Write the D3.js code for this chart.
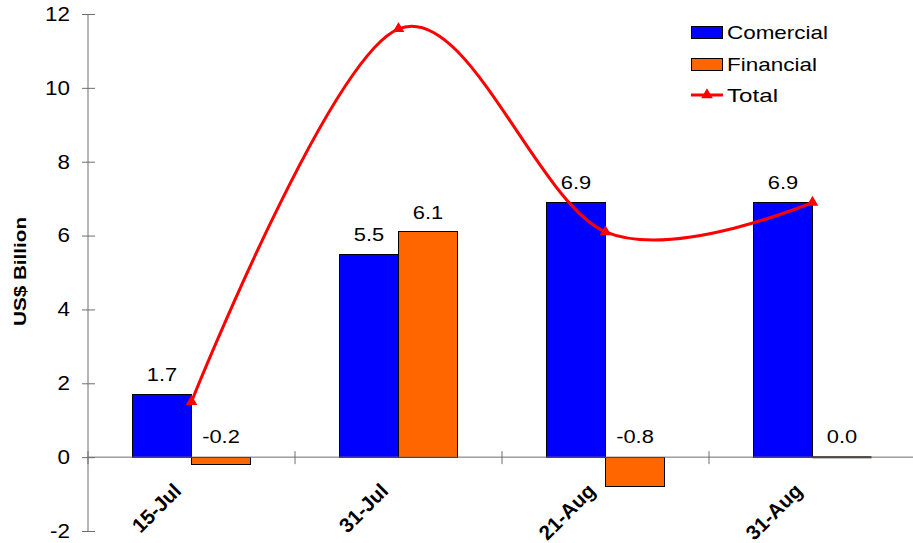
<!DOCTYPE html>
<html>
<head>
<meta charset="utf-8">
<script src="https://cdn.jsdelivr.net/npm/d3@7/dist/d3.min.js"></script>
<style>
  html, body { margin: 0; padding: 0; background: #fff; }
  svg { display: block; font-family: "Liberation Sans", Arial, sans-serif; }
</style>
</head>
<body>
<svg id="chart" width="913" height="543"></svg>
<script>
// Dates on the category axis
const categories = ["15-Jul", "31-Jul", "21-Aug", "31-Aug"];
// Flows by type, US$ billion
const comercial = [1.7, 5.5, 6.9, 6.9];
const financial = [-0.2, 6.1, -0.8, 0.0];
const total = [1.5, 11.6, 6.1, 6.9];
// Value axis ticks
const yTicks = [-2, 0, 2, 4, 6, 8, 10, 12];
const seriesNames = ["Comercial", "Financial"];
const seriesColors = ["#0000ff", "#ff6600"];
const legendNames = ["Comercial", "Financial", "Total"];

const svg = d3.select("#chart");

// Widen horizontal text a little (the chart's type is set wide)
function widen(sel, k) {
  sel.each(function() {
    const w = this.getComputedTextLength();
    d3.select(this).attr("textLength", w * k).attr("lengthAdjust", "spacingAndGlyphs");
  });
}

const y = d3.scaleLinear().domain([-2, 12]).range([531, 14]);
const x = d3.scaleBand().domain(categories).range([88, 916]).padding(0);
const barW = 59;
const xs = d3.scaleBand().domain(seriesNames)
  .range([x.bandwidth() / 2 - barW, x.bandwidth() / 2 + barW]).padding(0);

const axisColor = "#6e6e6e";

// Value axis
const yAxis = svg.append("g")
  .attr("transform", "translate(88,0)")
  .call(d3.axisLeft(y).tickValues(yTicks).tickSize(6).tickPadding(12).tickFormat(d => String(d)));
yAxis.select(".domain").attr("stroke", axisColor).attr("d", `M0,${y(12)}V${y(-2)}`);
yAxis.selectAll(".tick line").attr("stroke", axisColor).attr("x1", 7);
yAxis.selectAll(".tick text")
  .attr("fill", "#000")
  .style("font-size", "20px")
  .style("font-family", "Liberation Sans, Arial, sans-serif")
  .call(widen, 1.12);

// Axis title
svg.append("text")
  .attr("transform", `translate(26,${(217 + 326) / 2}) rotate(-90)`)
  .attr("text-anchor", "middle")
  .attr("textLength", 109)
  .attr("lengthAdjust", "spacingAndGlyphs")
  .style("font-size", "17px")
  .style("font-weight", "bold")
  .text("US$ Billion");

// Bars
const groups = svg.append("g").selectAll("g")
  .data(categories)
  .join("g")
  .attr("transform", d => `translate(${x(d)},0)`);

seriesNames.forEach((name, si) => {
  const vals = si === 0 ? comercial : financial;
  groups.append("rect")
    .attr("x", xs(name))
    .attr("width", xs.bandwidth())
    .attr("y", (d, i) => Math.min(y(vals[i]), y(0)))
    .attr("height", (d, i) => Math.abs(y(vals[i]) - y(0)))
    .attr("fill", seriesColors[si])
    .attr("stroke", "#000")
    .attr("stroke-width", 1)
    .attr("shape-rendering", "crispEdges");
  groups.append("text")
    .attr("class", "val")
    .attr("x", xs(name) + xs.bandwidth() / 2)
    .attr("y", (d, i) => vals[i] > 0 ? y(vals[i]) - 13 : y(0) - 14)
    .attr("text-anchor", "middle")
    .style("font-size", "19px")
    .text((d, i) => vals[i].toFixed(1));
});
svg.selectAll("text.val").call(widen, 1.15);

// Zero-value bars read as a dark line on the axis
groups.each(function(d, i) {
  if (financial[i] === 0) {
    d3.select(this).append("line")
      .attr("x1", xs("Financial")).attr("x2", xs("Financial") + xs.bandwidth())
      .attr("y1", y(0)).attr("y2", y(0))
      .attr("stroke", "#1a0a00").attr("stroke-width", 2);
  }
});

// Category axis
const xAxis = svg.append("g")
  .attr("transform", `translate(0,${y(0)})`);
xAxis.append("line")
  .attr("x1", 88).attr("x2", 913)
  .attr("stroke", axisColor);
xAxis.selectAll("line.bound")
  .data(categories.map(c => x(c)).concat([x.range()[1]]))
  .join("line")
  .attr("class", "bound")
  .attr("x1", d => d).attr("x2", d => d)
  .attr("y1", -6).attr("y2", 7)
  .attr("stroke", axisColor);
xAxis.selectAll("text")
  .data(categories)
  .join("text")
  .attr("transform", d => `translate(${x(d) + x.bandwidth() / 2 - 9},${35}) rotate(-45)`)
  .attr("text-anchor", "end")
  .style("font-size", "20.5px")
  .style("font-weight", "bold")
  .text(d => d);

// Total line, smoothed
const px = (d, i) => x(categories[i]) + x.bandwidth() / 2;
const line = d3.line()
  .x((d, i) => px(d, i))
  .y(d => y(d))
  .curve(d3.curveCardinal.tension(0));
svg.append("path")
  .datum(total)
  .attr("d", line)
  .attr("fill", "none")
  .attr("stroke", "#ff0000")
  .attr("stroke-width", 3);

const tri = d3.symbol().type(d3.symbolTriangle).size(58);
svg.append("g").selectAll("path")
  .data(total)
  .join("path")
  .attr("transform", (d, i) => `translate(${px(d, i)},${y(d)})`)
  .attr("d", tri)
  .attr("fill", "#ff0000");

// Legend
const legend = svg.append("g").attr("transform", "translate(691,0)");
const rows = [32, 64, 95];
const legendLen = [101, 90, 51];
seriesNames.forEach((name, i) => {
  legend.append("rect")
    .attr("x", 0).attr("y", rows[i] - 6)
    .attr("width", 31).attr("height", 12)
    .attr("fill", seriesColors[i]).attr("stroke", "#000")
    .attr("shape-rendering", "crispEdges");
});
legend.append("line")
  .attr("x1", 0).attr("x2", 32)
  .attr("y1", rows[2]).attr("y2", rows[2])
  .attr("stroke", "#ff0000").attr("stroke-width", 3);
legend.append("path")
  .attr("transform", `translate(16,${rows[2]})`)
  .attr("d", tri)
  .attr("fill", "#ff0000");
legend.selectAll("text")
  .data(legendNames)
  .join("text")
  .attr("x", 36).attr("y", (d, i) => rows[i]).attr("dy", "0.36em")
  .attr("textLength", (d, i) => legendLen[i])
  .attr("lengthAdjust", "spacingAndGlyphs")
  .style("font-size", "19px")
  .text(d => d);
</script>
</body>
</html>
